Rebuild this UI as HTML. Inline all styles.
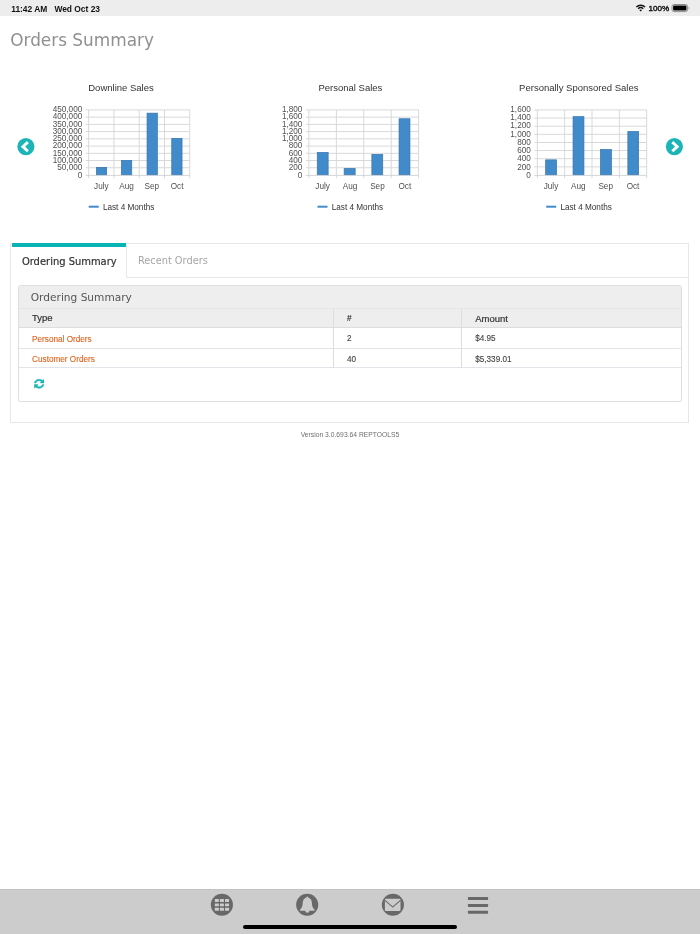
<!DOCTYPE html>
<html lang="en">
<head>
<meta charset="utf-8">
<title>Orders Summary</title>
<style>
html,body{margin:0;padding:0;background:#fff;}
body{width:700px;height:934px;position:relative;overflow:hidden;font-family:"Liberation Sans",Arial,sans-serif;color:#333;}
.abs{position:absolute;}
#status{left:0;top:0;width:700px;height:16.3px;background:#ededed;}
#status span{position:absolute;top:3.6px;font-size:8.42px;font-weight:bold;color:#111;line-height:10px;white-space:nowrap;}
h1{position:absolute;left:10.2px;top:29.7px;margin:0;font-family:"DejaVu Sans",sans-serif;font-weight:normal;font-size:16.9px;line-height:20px;color:#909090;white-space:nowrap;}
svg text{font-family:"Liberation Sans",Arial,sans-serif;}
#tabs{left:10.2px;top:243px;width:679.2px;height:180.4px;border:1px solid #e7e7e7;box-sizing:border-box;}
#tabbar{left:10.2px;top:277.3px;width:679.2px;height:1px;background:#e7e7e7;}
#tab1{left:11.3px;top:243px;width:115.3px;height:35.2px;background:#fff;border-right:1px solid #e7e7e7;box-sizing:border-box;}
.tabt{font-family:"DejaVu Sans",sans-serif;font-size:9.95px;line-height:12px;white-space:nowrap;}
#panel{left:17.9px;top:285.2px;width:664.4px;height:117px;border:1px solid #dedede;border-radius:2.5px;box-sizing:border-box;background:#fff;overflow:hidden;}
#phead{left:0;top:0;width:100%;height:22.4px;background:#eeeeee;border-bottom:1px solid #e5e5e5;box-sizing:border-box;}
#thead{left:0;top:22.4px;width:100%;height:19.6px;background:#eeeeee;border-bottom:0.7px solid #dddddd;box-sizing:border-box;}
.hl{left:0;width:100%;height:0.7px;background:#e1e5e9;}
.vl{top:22.4px;width:0.7px;height:59.2px;background:#dddddd;}
.th{font-size:9.5px;line-height:12px;color:#333;white-space:nowrap;-webkit-text-stroke:0.2px #333;}
.td{font-size:8.2px;line-height:10px;color:#444;white-space:nowrap;-webkit-text-stroke:0.12px currentColor;}
.lnk{color:#de641e;}
#ver{left:0;width:700px;top:430.2px;text-align:center;font-size:6.75px;line-height:9px;color:#6e6e6e;}
#bottom{left:0;top:888.5px;width:700px;height:45.5px;background:#cccccc;border-top:1px solid #c3c3c3;box-sizing:border-box;}
#home{left:242.5px;top:924.7px;width:214.5px;height:4.4px;border-radius:2.2px;background:#000;}
</style>
</head>
<body>
<div id="status" class="abs"><span style="left:11.2px">11:42 AM</span><span style="left:54.4px">Wed Oct 23</span><span style="left:648.5px;font-weight:normal;font-size:8.05px;-webkit-text-stroke:0.4px #111">100%</span>
<svg class="abs" style="left:630px;top:0px" width="70" height="16" viewBox="630 0 70 16"><path d="M635.84 6.46 A7.0 7.0 0 0 1 645.56 6.46 L644.52 7.54 A5.5 5.5 0 0 0 636.88 7.54 Z M637.64 8.33 A4.4 4.4 0 0 1 643.76 8.33 L642.78 9.34 A3.0 3.0 0 0 0 638.62 9.34 Z M640.70 11.50 L639.31 10.06 A2.0 2.0 0 0 1 642.09 10.06 Z" fill="#111"/><rect x="672" y="4.5" width="15.6" height="7.1" rx="2" fill="none" stroke="#8f8f8f" stroke-width="1"/><rect x="673.1" y="5.6" width="13.4" height="4.9" rx="1.1" fill="#000"/><path d="M688.6 6.7 a1.5 1.5 0 0 1 0 2.7 Z" fill="#9c9c9c"/></svg>

</div>
<h1>Orders Summary</h1>

<svg class="abs" style="left:0;top:0" width="700" height="230" viewBox="0 0 700 230">
<text x="121" y="91.2" text-anchor="middle" font-size="9.5" fill="#333">Downline Sales</text>
<rect x="85.7" y="109.45" width="104" height="0.9" fill="#d5d5d5"/>
<rect x="85.7" y="116.68" width="104" height="0.9" fill="#d5d5d5"/>
<rect x="85.7" y="123.92" width="104" height="0.9" fill="#d5d5d5"/>
<rect x="85.7" y="131.15" width="104" height="0.9" fill="#d5d5d5"/>
<rect x="85.7" y="138.38" width="104" height="0.9" fill="#d5d5d5"/>
<rect x="85.7" y="145.62" width="104" height="0.9" fill="#d5d5d5"/>
<rect x="85.7" y="152.85" width="104" height="0.9" fill="#d5d5d5"/>
<rect x="85.7" y="160.08" width="104" height="0.9" fill="#d5d5d5"/>
<rect x="85.7" y="167.32" width="104" height="0.9" fill="#d5d5d5"/>
<rect x="88.25" y="109.9" width="0.9" height="68.3" fill="#d5d5d5"/>
<rect x="113.5" y="109.9" width="0.9" height="68.3" fill="#d5d5d5"/>
<rect x="138.75" y="109.9" width="0.9" height="68.3" fill="#d5d5d5"/>
<rect x="164" y="109.9" width="0.9" height="68.3" fill="#d5d5d5"/>
<rect x="189.25" y="109.9" width="0.9" height="68.3" fill="#d5d5d5"/>
<text x="82.3" y="111.87" text-anchor="end" font-size="8.2" fill="#505050">450,000</text>
<text x="82.3" y="119.19" text-anchor="end" font-size="8.2" fill="#505050">400,000</text>
<text x="82.3" y="126.51" text-anchor="end" font-size="8.2" fill="#505050">350,000</text>
<text x="82.3" y="133.83" text-anchor="end" font-size="8.2" fill="#505050">300,000</text>
<text x="82.3" y="141.15" text-anchor="end" font-size="8.2" fill="#505050">250,000</text>
<text x="82.3" y="148.47" text-anchor="end" font-size="8.2" fill="#505050">200,000</text>
<text x="82.3" y="155.79" text-anchor="end" font-size="8.2" fill="#505050">150,000</text>
<text x="82.3" y="163.11" text-anchor="end" font-size="8.2" fill="#505050">100,000</text>
<text x="82.3" y="170.43" text-anchor="end" font-size="8.2" fill="#505050">50,000</text>
<text x="82.3" y="177.75" text-anchor="end" font-size="8.2" fill="#505050">0</text>
<rect x="96.35" y="167.35" width="10.3" height="7.65" fill="#428bca" stroke="#3674ae" stroke-width="0.7"/>
<rect x="121.45" y="160.45" width="10.3" height="14.55" fill="#428bca" stroke="#3674ae" stroke-width="0.7"/>
<rect x="147.05" y="113.15" width="10.3" height="61.85" fill="#428bca" stroke="#3674ae" stroke-width="0.7"/>
<rect x="171.75" y="138.35" width="10.3" height="36.65" fill="#428bca" stroke="#3674ae" stroke-width="0.7"/>
<rect x="85.7" y="174.9" width="104" height="0.9" fill="#cfd2d6"/>
<text x="101.33" y="188.9" text-anchor="middle" font-size="8.2" fill="#505050">July</text>
<text x="126.57" y="188.9" text-anchor="middle" font-size="8.2" fill="#505050">Aug</text>
<text x="151.82" y="188.9" text-anchor="middle" font-size="8.2" fill="#505050">Sep</text>
<text x="177.07" y="188.9" text-anchor="middle" font-size="8.2" fill="#505050">Oct</text>
<rect x="88.7" y="205.7" width="10" height="2" fill="#428bca"/>
<text x="102.9" y="209.5" font-size="8.2" fill="#333">Last 4 Months</text>
<text x="350.4" y="91.2" text-anchor="middle" font-size="9.5" fill="#333">Personal Sales</text>
<rect x="305.9" y="109.45" width="112.7" height="0.9" fill="#d5d5d5"/>
<rect x="305.9" y="116.68" width="112.7" height="0.9" fill="#d5d5d5"/>
<rect x="305.9" y="123.92" width="112.7" height="0.9" fill="#d5d5d5"/>
<rect x="305.9" y="131.15" width="112.7" height="0.9" fill="#d5d5d5"/>
<rect x="305.9" y="138.38" width="112.7" height="0.9" fill="#d5d5d5"/>
<rect x="305.9" y="145.62" width="112.7" height="0.9" fill="#d5d5d5"/>
<rect x="305.9" y="152.85" width="112.7" height="0.9" fill="#d5d5d5"/>
<rect x="305.9" y="160.08" width="112.7" height="0.9" fill="#d5d5d5"/>
<rect x="305.9" y="167.32" width="112.7" height="0.9" fill="#d5d5d5"/>
<rect x="308.45" y="109.9" width="0.9" height="68.3" fill="#d5d5d5"/>
<rect x="335.88" y="109.9" width="0.9" height="68.3" fill="#d5d5d5"/>
<rect x="363.3" y="109.9" width="0.9" height="68.3" fill="#d5d5d5"/>
<rect x="390.73" y="109.9" width="0.9" height="68.3" fill="#d5d5d5"/>
<rect x="418.15" y="109.9" width="0.9" height="68.3" fill="#d5d5d5"/>
<text x="302.4" y="111.87" text-anchor="end" font-size="8.2" fill="#505050">1,800</text>
<text x="302.4" y="119.19" text-anchor="end" font-size="8.2" fill="#505050">1,600</text>
<text x="302.4" y="126.51" text-anchor="end" font-size="8.2" fill="#505050">1,400</text>
<text x="302.4" y="133.83" text-anchor="end" font-size="8.2" fill="#505050">1,200</text>
<text x="302.4" y="141.15" text-anchor="end" font-size="8.2" fill="#505050">1,000</text>
<text x="302.4" y="148.47" text-anchor="end" font-size="8.2" fill="#505050">800</text>
<text x="302.4" y="155.79" text-anchor="end" font-size="8.2" fill="#505050">600</text>
<text x="302.4" y="163.11" text-anchor="end" font-size="8.2" fill="#505050">400</text>
<text x="302.4" y="170.43" text-anchor="end" font-size="8.2" fill="#505050">200</text>
<text x="302.4" y="177.75" text-anchor="end" font-size="8.2" fill="#505050">0</text>
<rect x="317.25" y="152.45" width="10.9" height="22.55" fill="#428bca" stroke="#3674ae" stroke-width="0.7"/>
<rect x="344.15" y="168.45" width="11" height="6.55" fill="#428bca" stroke="#3674ae" stroke-width="0.7"/>
<rect x="371.85" y="154.35" width="10.9" height="20.65" fill="#428bca" stroke="#3674ae" stroke-width="0.7"/>
<rect x="399.05" y="118.75" width="10.9" height="56.25" fill="#428bca" stroke="#3674ae" stroke-width="0.7"/>
<rect x="305.9" y="174.9" width="112.7" height="0.9" fill="#cfd2d6"/>
<text x="322.61" y="188.9" text-anchor="middle" font-size="8.2" fill="#505050">July</text>
<text x="350.04" y="188.9" text-anchor="middle" font-size="8.2" fill="#505050">Aug</text>
<text x="377.46" y="188.9" text-anchor="middle" font-size="8.2" fill="#505050">Sep</text>
<text x="404.89" y="188.9" text-anchor="middle" font-size="8.2" fill="#505050">Oct</text>
<rect x="317.5" y="205.7" width="10" height="2" fill="#428bca"/>
<text x="331.7" y="209.5" font-size="8.2" fill="#333">Last 4 Months</text>
<text x="578.8" y="91.2" text-anchor="middle" font-size="9.5" fill="#333">Personally Sponsored Sales</text>
<rect x="534.3" y="109.45" width="112.4" height="0.9" fill="#d5d5d5"/>
<rect x="534.3" y="117.59" width="112.4" height="0.9" fill="#d5d5d5"/>
<rect x="534.3" y="125.73" width="112.4" height="0.9" fill="#d5d5d5"/>
<rect x="534.3" y="133.86" width="112.4" height="0.9" fill="#d5d5d5"/>
<rect x="534.3" y="142" width="112.4" height="0.9" fill="#d5d5d5"/>
<rect x="534.3" y="150.14" width="112.4" height="0.9" fill="#d5d5d5"/>
<rect x="534.3" y="158.28" width="112.4" height="0.9" fill="#d5d5d5"/>
<rect x="534.3" y="166.41" width="112.4" height="0.9" fill="#d5d5d5"/>
<rect x="536.85" y="109.9" width="0.9" height="68.3" fill="#d5d5d5"/>
<rect x="564.2" y="109.9" width="0.9" height="68.3" fill="#d5d5d5"/>
<rect x="591.55" y="109.9" width="0.9" height="68.3" fill="#d5d5d5"/>
<rect x="618.9" y="109.9" width="0.9" height="68.3" fill="#d5d5d5"/>
<rect x="646.25" y="109.9" width="0.9" height="68.3" fill="#d5d5d5"/>
<text x="530.8" y="111.87" text-anchor="end" font-size="8.2" fill="#505050">1,600</text>
<text x="530.8" y="120.1" text-anchor="end" font-size="8.2" fill="#505050">1,400</text>
<text x="530.8" y="128.34" text-anchor="end" font-size="8.2" fill="#505050">1,200</text>
<text x="530.8" y="136.57" text-anchor="end" font-size="8.2" fill="#505050">1,000</text>
<text x="530.8" y="144.81" text-anchor="end" font-size="8.2" fill="#505050">800</text>
<text x="530.8" y="153.04" text-anchor="end" font-size="8.2" fill="#505050">600</text>
<text x="530.8" y="161.28" text-anchor="end" font-size="8.2" fill="#505050">400</text>
<text x="530.8" y="169.51" text-anchor="end" font-size="8.2" fill="#505050">200</text>
<text x="530.8" y="177.75" text-anchor="end" font-size="8.2" fill="#505050">0</text>
<rect x="545.65" y="159.85" width="10.9" height="15.15" fill="#428bca" stroke="#3674ae" stroke-width="0.7"/>
<rect x="573.05" y="116.65" width="10.9" height="58.35" fill="#428bca" stroke="#3674ae" stroke-width="0.7"/>
<rect x="600.45" y="149.55" width="11" height="25.45" fill="#428bca" stroke="#3674ae" stroke-width="0.7"/>
<rect x="627.85" y="131.45" width="10.8" height="43.55" fill="#428bca" stroke="#3674ae" stroke-width="0.7"/>
<rect x="534.3" y="174.9" width="112.4" height="0.9" fill="#cfd2d6"/>
<text x="550.97" y="188.9" text-anchor="middle" font-size="8.2" fill="#505050">July</text>
<text x="578.33" y="188.9" text-anchor="middle" font-size="8.2" fill="#505050">Aug</text>
<text x="605.67" y="188.9" text-anchor="middle" font-size="8.2" fill="#505050">Sep</text>
<text x="633.03" y="188.9" text-anchor="middle" font-size="8.2" fill="#505050">Oct</text>
<rect x="546.2" y="205.7" width="10" height="2" fill="#428bca"/>
<text x="560.4" y="209.5" font-size="8.2" fill="#333">Last 4 Months</text>
<circle cx="25.9" cy="146.6" r="8.55" fill="#1bb4b7"/>
<polyline points="27.9,142.1 22.95,146.65 27.9,151.2" fill="none" stroke="#fff" stroke-width="2.9" stroke-linejoin="miter"/>
<circle cx="674.4" cy="146.6" r="8.55" fill="#1bb4b7"/>
<polyline points="672.3,142.1 677.25,146.65 672.3,151.2" fill="none" stroke="#fff" stroke-width="2.9" stroke-linejoin="miter"/>
</svg>

<div id="tabs" class="abs"></div>
<div id="tabbar" class="abs"></div>
<div id="tab1" class="abs"></div>
<div class="abs" style="left:11.6px;top:243.1px;width:114.8px;height:3.6px;background:#08b4b4"></div>
<div class="abs tabt" style="left:21.9px;top:255.5px;color:#333;-webkit-text-stroke:0.2px #333;">Ordering Summary</div>
<div class="abs tabt" style="left:137.9px;top:255.2px;color:#a6a6a6;font-size:9.8px;">Recent Orders</div>

<div id="panel" class="abs">
 <div id="phead" class="abs"></div>
 <div id="thead" class="abs"></div>
 <div class="abs hl" style="top:62.3px"></div>
 <div class="abs hl" style="top:81.3px"></div>
 <div class="abs vl" style="left:314.3px"></div>
 <div class="abs vl" style="left:442.5px"></div>
 <div class="abs" style="left:11.9px;top:4.7px;font-family:'DejaVu Sans',sans-serif;font-size:10.6px;line-height:13px;color:#555;white-space:nowrap;">Ordering Summary</div>
 <div class="abs th" style="left:13.1px;top:25.9px">Type</div>
 <div class="abs th" style="left:328.1px;top:26.6px;font-size:8.2px">#</div>
 <div class="abs th" style="left:456.3px;top:26.6px">Amount</div>
 <div class="abs td lnk" style="left:13.2px;top:48.4px">Personal Orders</div>
 <div class="abs td" style="left:328.1px;top:48.2px">2</div>
 <div class="abs td" style="left:456.3px;top:48.2px">$4.95</div>
 <div class="abs td lnk" style="left:13.2px;top:68.8px">Customer Orders</div>
 <div class="abs td" style="left:328.1px;top:68.6px">40</div>
 <div class="abs td" style="left:456.3px;top:68.6px">$5,339.01</div>
 <svg class="abs" style="left:14.9px;top:93.3px" width="10.3" height="9.5" viewBox="-40 -40 1616 1616" preserveAspectRatio="none"><path fill="#1bb4b7" stroke="#1bb4b7" stroke-width="80" d="M1511 928q0 5-1 7-64 268-268 434.500T764 1536q-146 0-282.500-55T238 1324l-129 129q-19 19-45 19t-45-19-19-45V960q0-26 19-45t45-19h448q26 0 45 19t19 45-19 45l-137 137q71 66 161 102t187 36q134 0 250-65t186-179q11-17 53-117 8-23 30-23h192q13 0 22.500 9.500t9.500 22.500zm25-800v448q0 26-19 45t-45 19h-448q-26 0-45-19t-19-45 19-45l138-138Q969 256 768 256q-134 0-250 65T332 500q-11 17-53 117-8 23-30 23H50q-13 0-22.500-9.500T18 608v-7q65-268 270-434.500T768 0q146 0 284 55.500T1297 212l130-129q19-19 45-19t45 19 19 45z"/></svg>
</div>

<div id="ver" class="abs">Version 3.0.693.64 REPTOOLS5</div>

<div id="bottom" class="abs"></div>
<svg class="abs" style="left:200px;top:889px" width="300" height="32" viewBox="200 889 300 32">
 <circle cx="221.9" cy="904.7" r="11.05" fill="#686868"/>
 <g fill="#cccccc"><rect x="214.8" y="899.0" width="4.05" height="2.9" rx="0.5"/><rect x="219.9" y="899.0" width="4.05" height="2.9" rx="0.5"/><rect x="225.0" y="899.0" width="4.05" height="2.9" rx="0.5"/><rect x="214.8" y="903.45" width="4.05" height="2.9" rx="0.5"/><rect x="219.9" y="903.45" width="4.05" height="2.9" rx="0.5"/><rect x="225.0" y="903.45" width="4.05" height="2.9" rx="0.5"/><rect x="214.8" y="907.8" width="4.05" height="2.9" rx="0.5"/><rect x="219.9" y="907.8" width="4.05" height="2.9" rx="0.5"/><rect x="225.0" y="907.8" width="4.05" height="2.9" rx="0.5"/></g>
 <circle cx="307.2" cy="904.7" r="11.05" fill="#686868"/>
 <path fill="#cccccc" d="M307.3 896.6 C307.8 896.6 308.1 897 308.1 897.6 C310.4 898.2 311.8 900.2 311.9 902.8 C312 906 312.6 908 314.6 909.8 L314.6 910.8 L300 910.8 L300 909.8 C302 908 302.6 906 302.7 902.8 C302.8 900.2 304.2 898.2 306.5 897.6 C306.5 897 306.8 896.6 307.3 896.6 Z M305.2 910.7 h4.2 a2.1 2.1 0 0 1 -4.2 0 z"/>
 <circle cx="392.9" cy="904.7" r="11.05" fill="#686868"/>
 <rect x="384.9" y="898.8" width="15.6" height="12.2" rx="1" fill="#cccccc"/>
 <path fill="none" stroke="#686868" stroke-width="1.1" d="M384.700 900.200 L392.700 907.100 L400.700 900.200"/>
 <g fill="#686868"><rect x="467.9" y="897.1" width="20.2" height="3" rx="0.7"/><rect x="467.9" y="903.9" width="20.2" height="3" rx="0.7"/><rect x="467.9" y="910.8" width="20.2" height="3" rx="0.7"/></g>
</svg>
<div id="home" class="abs"></div>
</body>
</html>
